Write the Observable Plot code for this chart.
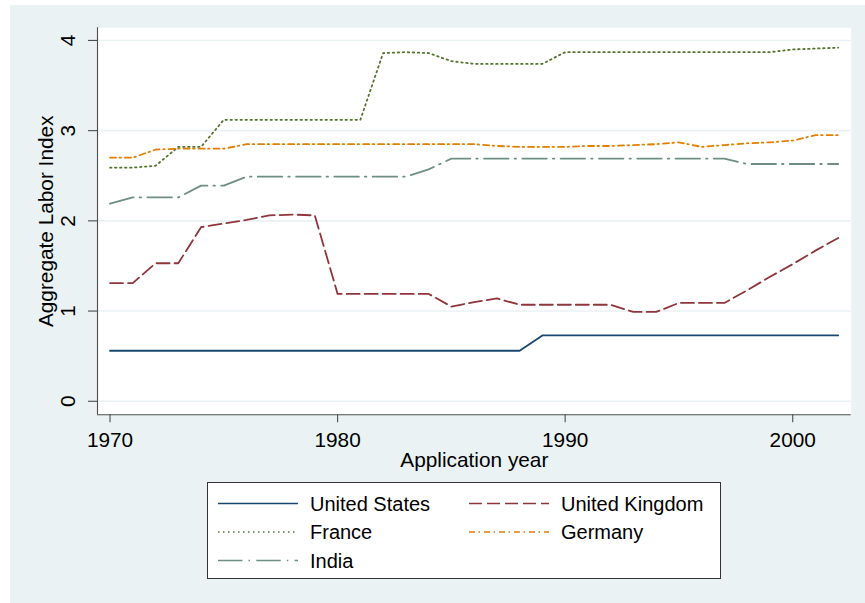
<!DOCTYPE html>
<html><head><meta charset="utf-8">
<script src="https://cdn.jsdelivr.net/npm/d3@7"></script>
<script src="https://cdn.jsdelivr.net/npm/@observablehq/plot@0.6"></script>
<style>
html,body{margin:0;padding:0;background:#fff;}
#wrap{position:relative;width:865px;height:603px;overflow:hidden;font-family:"Liberation Sans",Arial,sans-serif;}
#bg{position:absolute;left:10px;top:5px;right:0;bottom:0;background:#eaf2f3;}
#chart{position:absolute;left:0;top:0;}
#legend{position:absolute;left:207px;top:482px;width:512px;height:95px;background:#fff;border:1px solid #333;}
#legend svg{position:absolute;left:0;top:0;}
</style></head>
<body><div id="wrap"><div id="bg"></div><div id="chart"></div><div id="legend"></div></div>
<script>
const years = [1970,1971,1972,1973,1974,1975,1976,1977,1978,1979,1980,1981,1982,1983,1984,1985,1986,1987,1988,1989,1990,1991,1992,1993,1994,1995,1996,1997,1998,1999,2000,2001,2002];
const unitedStates = [0.56,0.56,0.56,0.56,0.56,0.56,0.56,0.56,0.56,0.56,0.56,0.56,0.56,0.56,0.56,0.56,0.56,0.56,0.56,0.73,0.73,0.73,0.73,0.73,0.73,0.73,0.73,0.73,0.73,0.73,0.73,0.73,0.73];
const unitedKingdom = [1.31,1.31,1.53,1.53,1.93,1.97,2.01,2.06,2.07,2.06,1.19,1.19,1.19,1.19,1.19,1.05,1.10,1.14,1.07,1.07,1.07,1.07,1.07,0.99,0.99,1.09,1.09,1.09,1.23,1.38,1.52,1.67,1.81];
const france = [2.59,2.59,2.61,2.82,2.82,3.12,3.12,3.12,3.12,3.12,3.12,3.12,3.86,3.87,3.86,3.77,3.74,3.74,3.74,3.74,3.87,3.87,3.87,3.87,3.87,3.87,3.87,3.87,3.87,3.87,3.90,3.91,3.92];
const germany = [2.70,2.70,2.79,2.80,2.80,2.80,2.85,2.85,2.85,2.85,2.85,2.85,2.85,2.85,2.85,2.85,2.85,2.83,2.82,2.82,2.82,2.83,2.83,2.84,2.85,2.87,2.82,2.84,2.86,2.87,2.89,2.95,2.95];
const india = [2.19,2.26,2.26,2.26,2.39,2.39,2.49,2.49,2.49,2.49,2.49,2.49,2.49,2.49,2.57,2.69,2.69,2.69,2.69,2.69,2.69,2.69,2.69,2.69,2.69,2.69,2.69,2.69,2.63,2.63,2.63,2.63,2.63];
const countries = ["United States","United Kingdom","France","Germany","India"];
const seriesValues = [unitedStates, unitedKingdom, france, germany, india];
const colors = ["#1a476f","#90353b","#55752f","#e37e00","#6e8e84"];
const dashes = [null,"13,5","1.5,3.5","6,3.5,1.5,4","24.5,6,1.5,6.3"];
const xTicks = [1970,1980,1990,2000];
const yTicks = [0,1,2,3,4];
const xTitle = "Application year";
const yTitle = "Aggregate Labor Index";

const rows = countries.map((c, i) => years.map((yr, j) => ({country: c, year: yr, value: seriesValues[i][j]})));
const xDomain = [1969.45, 2002.57];
const yDomain = [-0.15, 4.14];
const axisColor = "#4d4d4d";
const font = 20.8;
const legendFont = 20;

const chart = Plot.plot({
  width: 865, height: 470,
  marginLeft: 97, marginRight: 14.3, marginTop: 27.3, marginBottom: 55.7,
  style: {background: "transparent", fontFamily: "'Liberation Sans', Arial, sans-serif", color: "#000", overflow: "visible"},
  x: {domain: xDomain, label: null, axis: null},
  y: {domain: yDomain, label: null, axis: null},
  marks: [
    Plot.frame({fill: "white", stroke: "none"}),
    Plot.ruleY(yTicks, {y: d => d, stroke: "#eaf2f3", strokeWidth: 1.6}),
    ...rows.map((r, i) => Plot.line(r, {x: "year", y: "value", stroke: colors[i], strokeWidth: 1.8, strokeDasharray: dashes[i] || undefined, strokeLinejoin: "round"})),
    Plot.ruleX([xDomain[0]], {stroke: axisColor, strokeWidth: 1.1}),
    Plot.ruleY([yDomain[0]], {stroke: axisColor, strokeWidth: 1.1}),
    Plot.axisY({ticks: yTicks, tickSize: 9, fill: "none", stroke: axisColor, strokeWidth: 1.1}),
    Plot.axisX({ticks: xTicks, tickSize: 8, fill: "none", stroke: axisColor, strokeWidth: 1.1}),
    Plot.text(yTicks, {y: d => d, text: d => String(d), frameAnchor: "left", textAnchor: "middle", lineAnchor: "middle", dx: -29, rotate: -90, fontSize: font, fill: "#000"}),
    Plot.text(xTicks, {x: d => d, text: d => String(d), frameAnchor: "bottom", textAnchor: "middle", lineAnchor: "middle", dy: 26, fontSize: font, fill: "#000"}),
    Plot.text([xTitle], {text: d => d, frameAnchor: "bottom", textAnchor: "middle", lineAnchor: "middle", dy: 46, fontSize: font, fill: "#000"}),
    Plot.text([yTitle], {text: d => d, frameAnchor: "left", textAnchor: "middle", lineAnchor: "middle", dx: -51, rotate: -90, fontSize: font, fill: "#000"})
  ]
});
document.getElementById("chart").appendChild(chart);

// legend
const pos = [[0,0],[1,0],[0,1],[1,1],[0,2]];
const colX = [10, 261];
const rowY = [20.5, 49, 77.5];
const svg = d3.select("#legend").append("svg").attr("width", 512).attr("height", 95);
countries.forEach((c, i) => {
  const [cx, ry] = pos[i];
  const x0 = colX[cx], y = rowY[ry];
  svg.append("line").attr("x1", x0).attr("x2", x0 + 80).attr("y1", y).attr("y2", y)
    .attr("stroke", colors[i]).attr("stroke-width", 1.6)
    .attr("stroke-dasharray", dashes[i] || null);
  svg.append("text").attr("x", x0 + 92).attr("y", y).attr("dy", "0.36em")
    .attr("font-size", legendFont).attr("fill", "#000")
    .attr("font-family", "'Liberation Sans', Arial, sans-serif").text(c);
});
</script>
</body></html>
